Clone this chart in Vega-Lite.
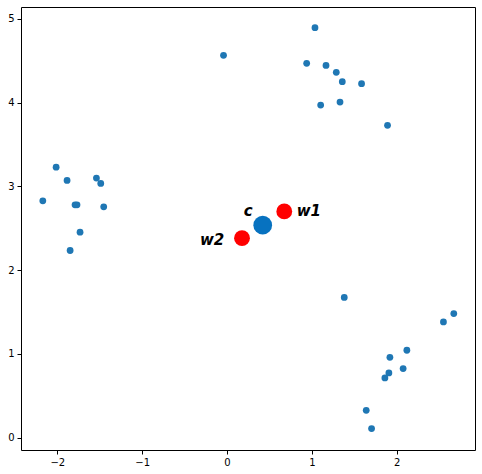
{
  "$schema": "https://vega.github.io/schema/vega-lite/v6.json",
  "autosize": "none",
  "width": 454,
  "height": 443,
  "padding": {"left": 21, "top": 7, "right": 7, "bottom": 24},
  "background": "white",
  "config": {
    "view": {"stroke": "#000000", "strokeWidth": 1},
    "axis": {
      "domain": false,
      "grid": false,
      "ticks": true,
      "tickColor": "#000000",
      "tickSize": 4,
      "tickWidth": 1,
      "labelFont": "DejaVu Sans",
      "labelFontSize": 10,
      "labelColor": "#000000",
      "labelPadding": 3,
      "format": "d",
      "title": null
    },
    "text": {"font": "DejaVu Sans", "fontSize": 15, "fontWeight": "bold", "fontStyle": "italic", "baseline": "alphabetic", "color": "#000000"}
  },
  "datasets": {
    "pts": [
      {"x": -0.041, "y": 4.564},
      {"x": -2.014, "y": 3.229},
      {"x": -1.885, "y": 3.070},
      {"x": -2.171, "y": 2.827},
      {"x": -1.791, "y": 2.779},
      {"x": -1.768, "y": 2.779},
      {"x": -1.539, "y": 3.098},
      {"x": -1.488, "y": 3.035},
      {"x": -1.453, "y": 2.755},
      {"x": -1.732, "y": 2.453},
      {"x": -1.849, "y": 2.234},
      {"x": 1.037, "y": 4.894},
      {"x": 0.939, "y": 4.468},
      {"x": 1.167, "y": 4.444},
      {"x": 1.288, "y": 4.361},
      {"x": 1.359, "y": 4.249},
      {"x": 1.586, "y": 4.225},
      {"x": 1.104, "y": 3.970},
      {"x": 1.332, "y": 4.006},
      {"x": 1.892, "y": 3.728},
      {"x": 1.382, "y": 1.673},
      {"x": 2.551, "y": 1.381},
      {"x": 2.673, "y": 1.481},
      {"x": 2.120, "y": 1.043},
      {"x": 1.920, "y": 0.959},
      {"x": 2.076, "y": 0.824},
      {"x": 1.908, "y": 0.772},
      {"x": 1.861, "y": 0.712},
      {"x": 1.641, "y": 0.326},
      {"x": 1.704, "y": 0.108}
    ],
    "big": [
      {"name": "w1", "x": 0.675, "y": 2.700, "kind": "w"},
      {"name": "w2", "x": 0.177, "y": 2.381, "kind": "w"},
      {"name": "c", "x": 0.421, "y": 2.536, "kind": "c"}
    ],
    "labels": [
      {"label": "c", "x": 0.251, "y": 2.648, "align": "center"},
      {"label": "w1", "x": 0.821, "y": 2.648, "align": "left"},
      {"label": "w2", "x": -0.032, "y": 2.297, "align": "right"}
    ]
  },
  "layer": [
    {
      "data": {"name": "pts"},
      "mark": {"type": "circle", "size": 46, "color": "#1f77b4", "opacity": 1},
      "encoding": {
        "x": {"field": "x", "type": "quantitative", "scale": {"domain": [-2.428, 2.923], "nice": false, "zero": false}, "axis": {"values": [-2, -1, 0, 1, 2]}},
        "y": {"field": "y", "type": "quantitative", "scale": {"domain": [-0.148, 5.141], "nice": false, "zero": false}, "axis": {"values": [0, 1, 2, 3, 4, 5]}}
      }
    },
    {
      "data": {"name": "big"},
      "mark": {"type": "circle", "opacity": 1},
      "encoding": {
        "x": {"field": "x", "type": "quantitative"},
        "y": {"field": "y", "type": "quantitative"},
        "color": {"field": "kind", "type": "nominal", "scale": {"domain": ["w", "c"], "range": ["#ff0000", "#0772c0"]}, "legend": null},
        "size": {"field": "kind", "type": "nominal", "scale": {"domain": ["w", "c"], "range": [250, 350]}, "legend": null}
      }
    },
    {
      "data": {"name": "labels"},
      "transform": [{"filter": "datum.align === 'center'"}],
      "mark": {"type": "text", "align": "center"},
      "encoding": {
        "x": {"field": "x", "type": "quantitative"},
        "y": {"field": "y", "type": "quantitative"},
        "text": {"field": "label", "type": "nominal"}
      }
    },
    {
      "data": {"name": "labels"},
      "transform": [{"filter": "datum.align === 'left'"}],
      "mark": {"type": "text", "align": "left"},
      "encoding": {
        "x": {"field": "x", "type": "quantitative"},
        "y": {"field": "y", "type": "quantitative"},
        "text": {"field": "label", "type": "nominal"}
      }
    },
    {
      "data": {"name": "labels"},
      "transform": [{"filter": "datum.align === 'right'"}],
      "mark": {"type": "text", "align": "right"},
      "encoding": {
        "x": {"field": "x", "type": "quantitative"},
        "y": {"field": "y", "type": "quantitative"},
        "text": {"field": "label", "type": "nominal"}
      }
    }
  ]
}
